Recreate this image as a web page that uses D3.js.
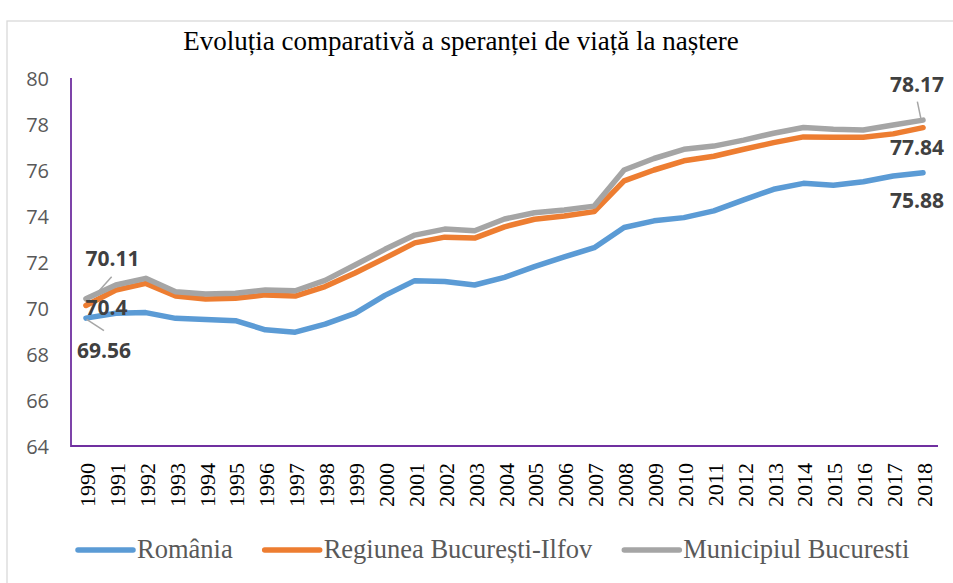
<html>
<head>
    <meta charset="utf-8">
    <style>
        body { margin: 0; background-color: white; }
        .yTick text { font-family: "Open Sans", sans-serif; font-size: 20px; fill: #595959; }
        .xTick text { font-family: "Liberation Serif", serif; font-size: 22px; fill: black; }
    </style>
</head>
<body>
    <svg id="container" width="953" height="583" xmlns="http://www.w3.org/2000/svg">
        <rect id="frame"></rect>
        <g id="yAxis"></g>
        <g id="xAxis"></g>
        <g id="body"></g>
        <g id="labels"></g>
        <g id="legend"></g>
    </svg>
<script src="https://cdn.jsdelivr.net/npm/d3@7"></script>
<script>
    // data
    let years = ["1990","1991","1992","1993","1994","1995","1996","1997","1998","1999",
                 "2000","2001","2002","2003","2004","2005","2006","2007","2008","2009",
                 "2010","2011","2012","2013","2014","2015","2016","2017","2018"]

    let romania = [69.56, 69.77, 69.8, 69.55, 69.5, 69.45, 69.05, 68.95, 69.3, 69.77,
                   70.55, 71.19, 71.15, 71.0, 71.33, 71.8, 72.22, 72.62, 73.5, 73.79,
                   73.93, 74.22, 74.7, 75.16, 75.42, 75.34, 75.49, 75.74, 75.88]
    let regiunea = [70.11, 70.78, 71.07, 70.52, 70.39, 70.42, 70.57, 70.52, 70.93, 71.52,
                    72.17, 72.83, 73.08, 73.04, 73.53, 73.86, 74.0, 74.19, 75.53, 76.0,
                    76.4, 76.6, 76.9, 77.19, 77.44, 77.42, 77.42, 77.57, 77.84]
    let municipiul = [70.4, 71.0, 71.29, 70.71, 70.61, 70.64, 70.78, 70.75, 71.2, 71.87,
                      72.55, 73.17, 73.43, 73.36, 73.87, 74.14, 74.26, 74.43, 76.0, 76.5,
                      76.9, 77.04, 77.3, 77.6, 77.85, 77.77, 77.74, 77.96, 78.17]

    let seriesNames = ["România", "Regiunea București-Ilfov", "Municipiul Bucuresti"]
    let seriesColors = ["#5B9BD5", "#ED7D31", "#A5A5A5"]
    let yTicks = [64, 66, 68, 70, 72, 74, 76, 78, 80]

    let title = "Evoluția comparativă a speranței de viață la naștere"

    let series = [romania, regiunea, municipiul]

    // where the value labels sit, offsets from the first / last point
    let labelLayout = [
        { first: [18, 40], last: [-6, 35], leadFirst: [[0.7, 1.2], [18, 12.6]], leadLast: null },
        { first: [26.5, -39.5], last: [-6, 27.3], leadFirst: [[12.3, -13.8], [25.7, -28.8]], leadLast: null },
        { first: [20.5, 16], last: [-6, -28], leadFirst: null, leadLast: [[-2, -0.8], [-5.7, -18.4]] }
    ]

    let svg = d3.select("#container")

    d3.select("#frame")
        .attr("x", 7).attr("y", 21)
        .attr("width", 1000).attr("height", 1000)
        .attr("fill", "white")
        .attr("stroke", "#D9D9D9")
        .attr("stroke-width", 1.3)

    let plotLeft = 71, plotRight = 938, plotTop = 78, plotBottom = 446

    let xScale = d3.scalePoint().domain(years).range([plotLeft, plotRight]).padding(0.5)
    let yScale = d3.scaleLinear().domain([64, 80]).range([plotBottom, plotTop])

    // title
    svg.append("text")
        .attr("x", 461).attr("y", 50)
        .attr("text-anchor", "middle")
        .style("font-family", "Liberation Serif, serif")
        .style("font-size", "27px")
        .style("fill", "black")
        .text(title)

    // y axis
    let yAxis = d3.axisLeft(yScale).tickValues(yTicks).tickSize(0).tickPadding(22)
    let yAxisGroup = d3.select("#yAxis")
        .attr("class", "yTick")
        .attr("transform", `translate(${plotLeft},0)`)
        .call(yAxis)
    yAxisGroup.select(".domain").remove()
    yAxisGroup.selectAll("text").attr("dy", "0.35em")

    // x axis
    let xAxis = d3.axisBottom(xScale).tickSize(0).tickPadding(0)
    let xAxisGroup = d3.select("#xAxis")
        .attr("class", "xTick")
        .attr("transform", `translate(0,${plotBottom})`)
        .call(xAxis)
    xAxisGroup.select(".domain").remove()
    xAxisGroup.selectAll("text")
        .attr("y", 0).attr("dy", null)
        .attr("text-anchor", "end")
        .attr("dominant-baseline", "central")
        .attr("transform", "translate(1,17) rotate(-90)")

    // purple axis lines
    svg.append("path")
        .attr("d", `M${plotLeft},${plotTop} V${plotBottom} H${plotRight}`)
        .attr("fill", "none")
        .attr("stroke", "#7030A0")
        .attr("stroke-width", 1.8)

    // lines
    let line = d3.line()
        .x((d, i) => xScale(years[i]))
        .y(d => yScale(d))

    d3.select("#body").selectAll("path")
        .data(series)
        .enter()
        .append("path")
        .attr("d", d => line(d))
        .attr("fill", "none")
        .attr("stroke", (d, i) => seriesColors[i])
        .attr("stroke-width", 5.5)
        .attr("stroke-linejoin", "round")
        .attr("stroke-linecap", "round")

    // value labels
    let labels = d3.select("#labels")
    series.forEach((s, i) => {
        let lay = labelLayout[i]
        let ends = [
            { x: xScale(years[0]), y: yScale(s[0]), v: s[0], off: lay.first, lead: lay.leadFirst },
            { x: xScale(years[years.length - 1]), y: yScale(s[s.length - 1]), v: s[s.length - 1], off: lay.last, lead: lay.leadLast }
        ]
        ends.forEach(e => {
            if (e.lead) {
                labels.append("line")
                    .attr("x1", e.x + e.lead[0][0]).attr("y1", e.y + e.lead[0][1])
                    .attr("x2", e.x + e.lead[1][0]).attr("y2", e.y + e.lead[1][1])
                    .attr("stroke", "#A6A6A6")
                    .attr("stroke-width", 1.5)
            }
            labels.append("text")
                .attr("x", e.x + e.off[0])
                .attr("y", e.y + e.off[1])
                .attr("text-anchor", "middle")
                .style("font-family", "Open Sans, sans-serif")
                .style("font-weight", "bold")
                .style("font-size", "21px")
                .style("fill", "#404040")
                .text(e.v)
        })
    })

    // legend
    let legend = d3.select("#legend")
    let lx = 78
    seriesNames.forEach((name, i) => {
        legend.append("line")
            .attr("x1", lx).attr("x2", lx + 55)
            .attr("y1", 550).attr("y2", 550)
            .attr("stroke", seriesColors[i])
            .attr("stroke-width", 5.5)
            .attr("stroke-linecap", "round")
        let t = legend.append("text")
            .attr("x", lx + 59).attr("y", 558)
            .style("font-family", "Liberation Serif, serif")
            .style("font-size", "26.5px")
            .style("fill", "#595959")
            .text(name)
        lx = lx + 59 + t.node().getComputedTextLength() + 32
    })
</script>
</body>
</html>
